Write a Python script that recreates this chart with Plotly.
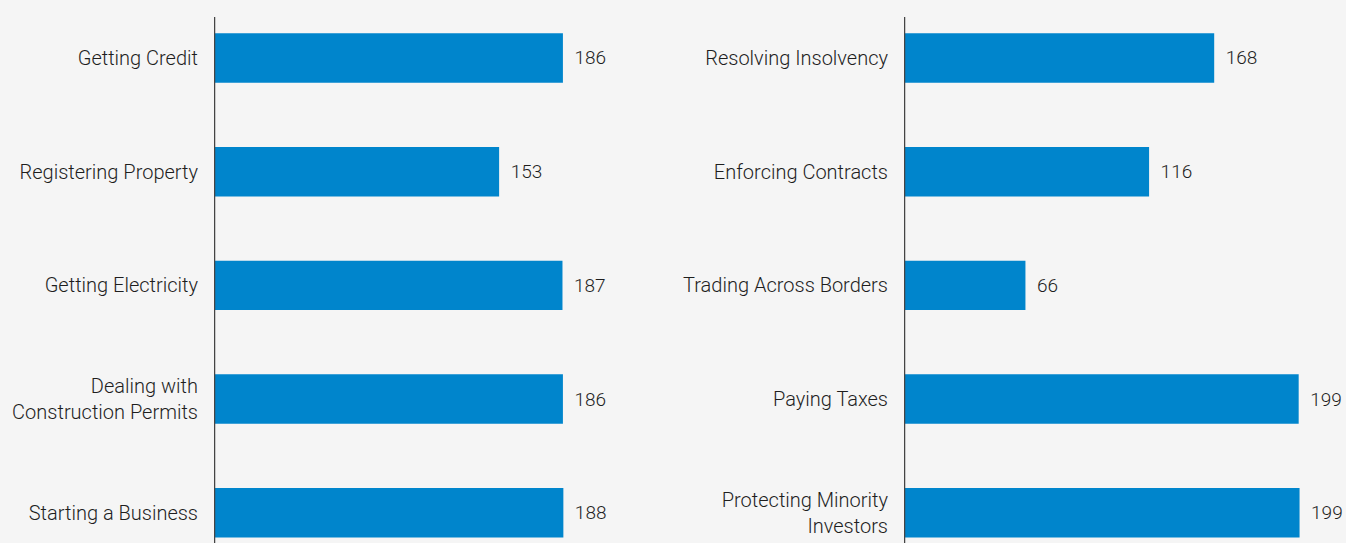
import plotly.graph_objects as go

# Left panel
left_categories = ["Getting Credit", "Registering Property", "Getting Electricity",
                   "Dealing with<br>Construction Permits", "Starting a Business"]
left_scores = [79.3, 64.8, 79.2, 79.3, 79.4]   # bar lengths (estimated)
left_ranks = [186, 153, 187, 186, 188]          # labels shown

# Right panel
right_categories = ["Resolving Insolvency", "Enforcing Contracts", "Trading Across Borders",
                    "Paying Taxes", "Protecting Minority<br>Investors"]
right_scores = [70.5, 55.7, 27.6, 89.7, 89.9]
right_ranks = [168, 116, 66, 199, 199]

BAR_COLOR = "#0085CC"
BG = "#f5f5f5"
FAMILY = "Roboto, 'Liberation Sans', Arial, sans-serif"
FONT = dict(family=FAMILY, size=19, color="#1e1e1e", weight=300)
TICKFONT = dict(family=FAMILY, size=20, color="#1e1e1e", weight=300)

fig = go.Figure()

positions = list(range(len(left_categories)))

for i, (cats, scores, ranks) in enumerate([(left_categories, left_scores, left_ranks),
                                           (right_categories, right_scores, right_ranks)]):
    xa = "x" if i == 0 else "x2"
    ya = "y" if i == 0 else "y2"
    fig.add_trace(go.Bar(
        x=scores, y=positions, orientation="h",
        marker=dict(color=BAR_COLOR, line=dict(width=0)),
        width=0.435,
        text=["\u00a0\u2009" + str(r) for r in ranks],
        textposition="outside", cliponaxis=False,
        textfont=FONT,
        xaxis=xa, yaxis=ya, showlegend=False, hoverinfo="skip",
    ))

W = 1346
H = 543
left_start = 214 / W
right_start = 904 / W
span = 440 / W

yrange = [4.266, -0.51]

fig.update_layout(
    width=W, height=H,
    margin=dict(l=0, r=0, t=0, b=0),
    paper_bgcolor=BG, plot_bgcolor=BG,
    font=FONT,
    xaxis=dict(domain=[left_start, left_start + span], range=[0, 100], visible=False, fixedrange=True),
    xaxis2=dict(domain=[right_start, right_start + span], range=[0, 100], visible=False, fixedrange=True),
    yaxis=dict(domain=[0, 1], range=yrange, tickvals=positions, ticktext=left_categories,
               showgrid=False, zeroline=False, showline=False, ticks="outside", ticklen=11,
               tickcolor="rgba(0,0,0,0)", tickfont=TICKFONT, anchor="x", fixedrange=True),
    yaxis2=dict(domain=[0, 1], range=yrange, tickvals=positions, ticktext=right_categories,
                showgrid=False, zeroline=False, showline=False, ticks="outside", ticklen=11,
                tickcolor="rgba(0,0,0,0)", tickfont=TICKFONT, anchor="x2", fixedrange=True),
)

line_top = 1 - 17 / H
for xr in ["x", "x2"]:
    fig.add_shape(type="line", xref=xr, yref="paper", x0=0, x1=0, y0=0, y1=line_top,
                  line=dict(color="#444444", width=2.5), layer="above")

fig.write_html(
    "out.html",
    config={"displayModeBar": False},
    post_script="document.body.style.margin='0';document.body.style.overflow='hidden';"
                "document.body.style.background='" + BG + "';",
)
